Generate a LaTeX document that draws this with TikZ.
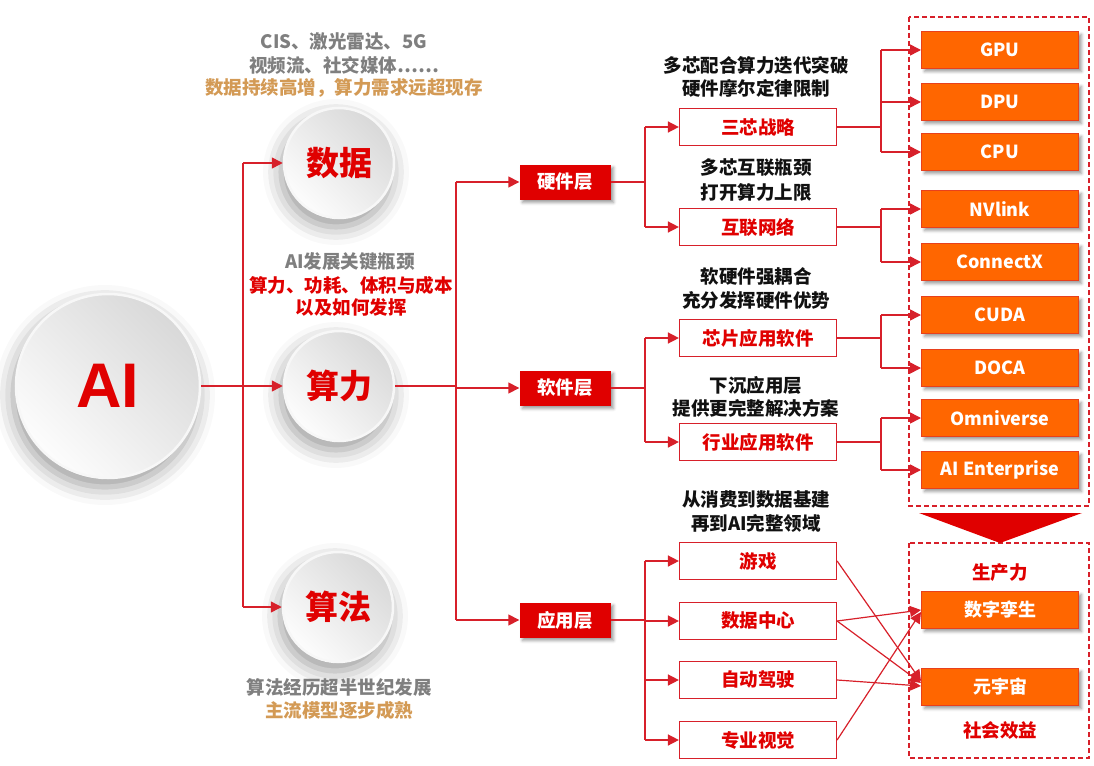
\documentclass[tikz,border=0pt]{standalone}
\usepackage{fontspec}
\setmainfont{Noto Sans CJK SC}
\newfontfamily\arialf{Liberation Sans}
\usetikzlibrary{arrows.meta,shadows.blur}
\definecolor{lred}{HTML}{D7202A}
\definecolor{bred}{HTML}{E00000}
\definecolor{orng}{HTML}{FF6600}
\definecolor{ordraw}{HTML}{E8401C}
\definecolor{gtxt}{HTML}{7F7F7F}
\definecolor{ttxt}{HTML}{D39A55}
\definecolor{ctxt}{HTML}{E00000}
\definecolor{btxt}{HTML}{111111}
\begin{document}
\begin{tikzpicture}[x=1pt,y=-1pt,
 every node/.style={font=\fontsize{18.5pt}{23pt}\selectfont\bfseries, align=center, inner sep=0pt},
 ball/.style={circle, minimum size=110pt, shading=axis, top color=gray!30, bottom color=white!98!gray, shading angle=-45, draw=white!94!gray, line width=2.5pt, blur shadow={shadow xshift=-3pt, shadow yshift=-9pt, shadow blur radius=18pt, shadow opacity=40}, text=ctxt, font=\fontsize{33pt}{36pt}\selectfont\bfseries},
 darkbox/.style={rectangle, fill=bred, text=white, minimum width=91pt, minimum height=35pt, blur shadow={shadow xshift=3pt, shadow yshift=-3pt, shadow blur radius=3pt, shadow opacity=40}},
 wbox/.style={rectangle, draw=lred, line width=1.2pt, fill=white, text=ctxt, minimum width=157pt, minimum height=37pt},
 obox/.style={rectangle, fill=orng, draw=ordraw, line width=1pt, text=white, minimum width=157pt, minimum height=37pt, font=\fontsize{18pt}{22pt}\selectfont\bfseries, blur shadow={shadow xshift=3pt, shadow yshift=-3pt, shadow blur radius=3pt, shadow opacity=40}},
 conn/.style={draw=lred, line width=1.5pt},
 arr/.style={conn, -{Triangle[length=11pt,width=11pt]}},
 dbox/.style={draw=lred, dash pattern=on 5pt off 3pt, line width=1.3pt},
 desc/.style={text=btxt}
]
\useasboundingbox (0,0) rectangle (1094,765);
% circles
\node[ball, minimum size=184pt, font=\arialf\fontsize{63pt}{66pt}\selectfont\bfseries] (ai) at (108,386) {AI};
\node[ball] (shuju) at (339,163) {数据};
\node[ball] (suanli) at (339,386) {算力};
\node[ball] (suanfa) at (338,607) {算法};
% circle texts
\node[text=gtxt] (t1) at (344,42) {CIS、激光雷达、5G};
\node[text=gtxt] (t2) at (344,65) {视频流、社交媒体……};
\node[text=ttxt] (t3) at (344,88) {数据持续高增，算力需求远超现存};
\node[text=gtxt] (t4) at (350,262) {AI发展关键瓶颈};
\node[text=ctxt] (t5) at (351,285) {算力、功耗、体积与成本};
\node[text=ctxt] (t6) at (351,307) {以及如何发挥};
\node[text=gtxt] (t7) at (339,687) {算法经历超半世纪发展};
\node[text=ttxt] (t8) at (339,710) {主流模型逐步成熟};
% layer boxes
\node[darkbox] (hw) at (565,182) {硬件层};
\node[darkbox] (sw) at (565,388) {软件层};
\node[darkbox] (app) at (565,620) {应用层};
% white boxes
\node[wbox] (sanxin) at (758,127) {三芯战略};
\node[wbox] (hulian) at (758,227) {互联网络};
\node[wbox] (xinpian) at (758,338) {芯片应用软件};
\node[wbox] (hangye) at (758,442) {行业应用软件};
\node[wbox] (youxi) at (758,561) {游戏};
\node[wbox] (dc) at (758,621) {数据中心};
\node[wbox] (zd) at (758,680) {自动驾驶};
\node[wbox] (zy) at (758,740) {专业视觉};
% descriptions
\node[desc] (d1) at (756,65) {多芯配合算力迭代突破};
\node[desc] (d2) at (756,88) {硬件摩尔定律限制};
\node[desc] (d3) at (756,168) {多芯互联瓶颈};
\node[desc] (d4) at (756,192) {打开算力上限};
\node[desc] (d5) at (756,277) {软硬件强耦合};
\node[desc] (d6) at (756,300) {充分发挥硬件优势};
\node[desc] (d7) at (756,385) {下沉应用层};
\node[desc] (d8) at (756,408) {提供更完整解决方案};
\node[desc] (d9) at (756,500) {从消费到数据基建};
\node[desc] (d10) at (756,523) {再到AI完整领域};
% dashed boxes and triangle
\draw[dbox] (909,17) rectangle (1089,506);
\draw[dbox] (909,543) rectangle (1089,758);
\fill[bred] (919,513) -- (1082,513) -- (1000,543) -- cycle;
% orange boxes
\node[obox] (gpu) at (1000,50) {GPU};
\node[obox] (dpu) at (1000,102) {DPU};
\node[obox] (cpu) at (1000,152) {CPU};
\node[obox] (nvlink) at (1000,209) {NVlink};
\node[obox] (connectx) at (1000,262) {ConnectX};
\node[obox] (cuda) at (1000,315) {CUDA};
\node[obox] (doca) at (1000,368) {DOCA};
\node[obox] (omni) at (1000,418) {Omniverse};
\node[obox] (aient) at (1000,470) {AI Enterprise};
\node[obox] (szls) at (1000,610) {数字孪生};
\node[obox] (yyz) at (1000,687) {元宇宙};
\node[text=ctxt] (scl) at (1000,573) {生产力};
\node[text=ctxt] (shxy) at (1000,730) {社会效益};
% junction coordinates
\coordinate (j1) at (243,386);
\coordinate (j2) at (456,386);
\coordinate (j3) at (645,182);
\coordinate (j4) at (881,127);
% AI -> circles
\draw[arr] (ai.east) -- (suanli.west);
\draw[conn] (j1|-shuju) -- (j1|-suanfa);
\draw[arr] (j1|-shuju) -- (shuju.west);
\draw[arr] (j1|-suanfa) -- (suanfa.west);
% suanli -> layers
\draw[conn] (suanli.east) -- (j2);
\draw[conn] (j2|-hw) -- (j2|-app);
\draw[arr] (j2|-hw) -- (hw.west);
\draw[arr] (j2|-sw) -- (sw.west);
\draw[arr] (j2|-app) -- (app.west);
% hardware
\draw[conn] (hw.east) -- (j3|-hw);
\draw[conn] (j3|-sanxin) -- (j3|-hulian);
\draw[arr] (j3|-sanxin) -- (sanxin.west);
\draw[arr] (j3|-hulian) -- (hulian.west);
% software
\draw[conn] (sw.east) -- (j3|-sw);
\draw[conn] (j3|-xinpian) -- (j3|-hangye);
\draw[arr] (j3|-xinpian) -- (xinpian.west);
\draw[arr] (j3|-hangye) -- (hangye.west);
% application
\draw[conn] (app.east) -- (j3|-app);
\draw[conn] (j3|-youxi) -- (j3|-zy);
\draw[arr] (j3|-youxi) -- (youxi.west);
\draw[arr] (j3|-dc) -- (dc.west);
\draw[arr] (j3|-zd) -- (zd.west);
\draw[arr] (j3|-zy) -- (zy.west);
% sanxin -> GPU/DPU/CPU
\draw[conn] (sanxin.east) -- (j4|-sanxin);
\draw[conn] (j4|-gpu) -- (j4|-cpu);
\draw[arr] (j4|-gpu) -- (gpu.west);
\draw[arr] (j4|-dpu) -- (dpu.west);
\draw[arr] (j4|-cpu) -- (cpu.west);
% hulian -> NVlink/ConnectX
\draw[conn] (hulian.east) -- (j4|-hulian);
\draw[conn] (j4|-nvlink) -- (j4|-connectx);
\draw[arr] (j4|-nvlink) -- (nvlink.west);
\draw[arr] (j4|-connectx) -- (connectx.west);
% xinpian -> CUDA/DOCA
\draw[conn] (xinpian.east) -- (j4|-xinpian);
\draw[conn] (j4|-cuda) -- (j4|-doca);
\draw[arr] (j4|-cuda) -- (cuda.west);
\draw[arr] (j4|-doca) -- (doca.west);
% hangye -> Omniverse/AI Enterprise
\draw[conn] (hangye.east) -- (j4|-hangye);
\draw[conn] (j4|-omni) -- (j4|-aient);
\draw[arr] (j4|-omni) -- (omni.west);
\draw[arr] (j4|-aient) -- (aient.west);
% application crossings
\draw[arr, line width=1.2pt] (youxi.east) -- ([yshift=6pt]yyz.west);
\draw[arr, line width=1.2pt] (dc.east) -- (szls.west);
\draw[arr, line width=1.2pt] (dc.east) -- ([yshift=4pt]yyz.west);
\draw[arr, line width=1.2pt] (zd.east) -- ([yshift=1pt]yyz.west);
\draw[arr, line width=1.2pt] (zy.east) -- ([yshift=-2pt]szls.west);
\end{tikzpicture}
\end{document}
